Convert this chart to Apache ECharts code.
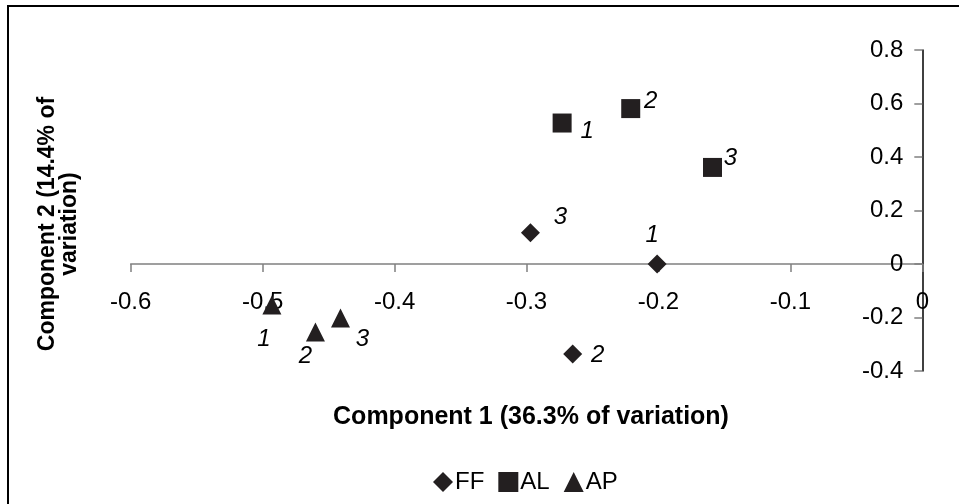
<!DOCTYPE html>
<html>
<head>
<meta charset="utf-8">
<script src="https://cdn.jsdelivr.net/npm/echarts@6/dist/echarts.min.js"></script>
<style>html,body{margin:0;padding:0;background:#fff;}#c{width:959px;height:504px;}</style>
</head>
<body>
<div id="c"></div>
<script>
// ---- data ----
const pointNames = ['1', '2', '3'];
const ffX = [-0.201, -0.265, -0.297];
const ffY = [0.0, -0.336, 0.117];
const alX = [-0.273, -0.221, -0.159];
const alY = [0.527, 0.581, 0.361];
const apX = [-0.493, -0.460, -0.441];
const apY = [-0.153, -0.254, -0.202];
const xTicks = ['-0.6', '-0.5', '-0.4', '-0.3', '-0.2', '-0.1', '0'];
const yTicks = ['-0.4', '-0.2', '0', '0.2', '0.4', '0.6', '0.8'];
const xTitle = 'Component 1 (36.3% of variation)';
const yTitle = 'Component 2 (14.4% of\nvariation)';

// ---- style (label offsets, px) ----
const ffOff = [[-5, -29], [25, 1], [30, -15]];
const alOff = [[25, 8], [20, -7], [18, -9]];
const apOff = [[-8, 34], [-10, 24], [22, 21]];

const FONT = '"Liberation Sans", Arial, sans-serif';
const INK = '#231f20';

function build(xs, ys, offs) {
  return xs.map((x, i) => ({
    name: pointNames[i],
    value: [x, ys[i]],
    label: { offset: offs[i] }
  }));
}
function fmt(ticks, min, step) {
  return v => {
    const idx = Math.round((v - min) / step);
    return ticks[idx] !== undefined ? ticks[idx] : '';
  };
}

const chart = echarts.init(document.getElementById('c'), null, { renderer: 'canvas' });
const labelCfg = {
  show: true, position: 'inside', formatter: p => p.name,
  fontFamily: FONT, fontSize: 24, fontStyle: 'italic', color: '#000'
};
const mk = (name, sym, data) => ({
  name, type: 'scatter', symbol: sym, symbolSize: 19,
  itemStyle: { color: INK, opacity: 1 }, data, label: labelCfg,
  emphasis: { disabled: true }
});

chart.setOption({
  animation: false,
  backgroundColor: '#fff',
  grid: { left: 130.7, right: 36.7, top: 50, bottom: 133 },
  xAxis: {
    type: 'value', min: -0.6, max: 0, interval: 0.1,
    axisLine: { onZero: true, lineStyle: { color: '#808080', width: 1.5 } },
    axisTick: { show: true, length: 8, lineStyle: { color: '#808080', width: 1.5 } },
    axisLabel: { formatter: fmt(xTicks, -0.6, 0.1), fontFamily: FONT, fontSize: 24, color: '#000', margin: -81 },
    splitLine: { show: false }
  },
  yAxis: {
    type: 'value', position: 'right', min: -0.4, max: 0.8, interval: 0.2,
    axisLine: { show: true, onZero: false, lineStyle: { color: '#000', width: 1.5 } },
    axisTick: { show: true, inside: true, length: 8, lineStyle: { color: '#808080', width: 1.5 } },
    axisLabel: { inside: true, formatter: fmt(yTicks, -0.4, 0.2), fontFamily: FONT, fontSize: 24, color: '#000', margin: 19 },
    splitLine: { show: false }
  },
  legend: {
    left: 428, top: 465, itemWidth: 20, itemHeight: 20, itemGap: 14,
    textStyle: { fontFamily: FONT, fontSize: 24, color: '#000', padding: [0, 0, 0, -3] },
    itemStyle: { opacity: 1 },
    data: [
      { name: 'FF', icon: 'diamond' },
      { name: 'AL', icon: 'rect' },
      { name: 'AP', icon: 'triangle' }
    ],
    selectedMode: false
  },
  series: [
    mk('FF', 'diamond', build(ffX, ffY, ffOff)),
    mk('AL', 'rect', build(alX, alY, alOff)),
    mk('AP', 'triangle', build(apX, apY, apOff))
  ],
  graphic: [
    { type: 'rect', silent: true, shape: { x: 8, y: 6, width: 1200, height: 1200 },
      style: { fill: 'none', stroke: '#000', lineWidth: 2 } },
    { type: 'text', silent: true, x: 531, y: 417,
      style: { text: xTitle, font: 'bold 25px ' + FONT, fill: '#000', textAlign: 'center', textVerticalAlign: 'middle' } },
    { type: 'text', silent: true, x: 59, y: 224, rotation: Math.PI / 2,
      style: { text: yTitle, font: 'bold 23px ' + FONT, fill: '#000', textAlign: 'center', textVerticalAlign: 'middle', lineHeight: 22 } }
  ]
});
</script>
</body>
</html>
